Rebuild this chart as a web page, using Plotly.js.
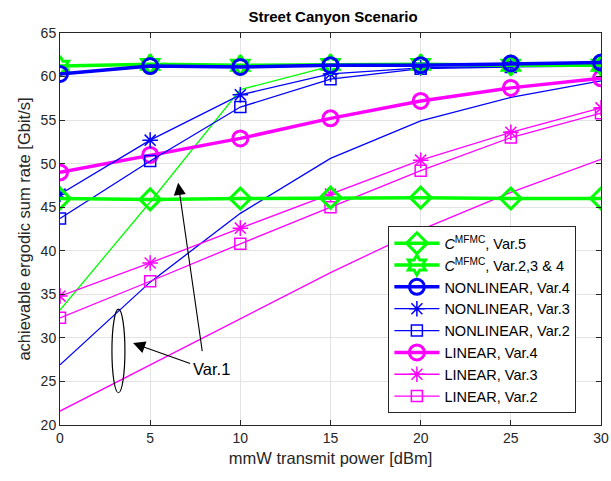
<!DOCTYPE html>
<html><head><meta charset="utf-8">
<script src="https://cdn.plot.ly/plotly-3.0.1.min.js"></script>
<style>html,body{margin:0;padding:0;background:#fff}#chart{width:611px;height:481px}</style>
</head><body><div id="chart"></div>
<script>
const xPower = [0, 5, 10, 15, 20, 25, 30];
const mfmcVar5 = [46.0, 45.9, 46.0, 46.1, 46.1, 46.0, 46.0];
const mfmcVar234 = [61.2, 61.4, 61.3, 61.4, 61.4, 61.3, 61.3];
const mfmcVar1 = [33.2, 45.6, 58.5, 61.2, 61.3, 61.3, 61.3];
const nonlinVar4 = [60.3, 61.2, 61.1, 61.3, 61.3, 61.5, 61.6];
const nonlinVar3 = [46.5, 52.7, 57.9, 60.3, 61.0, 61.2, 61.3];
const nonlinVar2 = [43.7, 50.3, 56.5, 59.7, 60.9, 61.1, 61.2];
const nonlinVar1 = [26.9, 36.4, 44.3, 50.6, 54.9, 57.6, 59.5];
const linVar4 = [49.0, 51.0, 52.9, 55.2, 57.2, 58.7, 59.8];
const linVar3 = [34.8, 38.6, 42.6, 46.5, 50.4, 53.6, 56.4];
const linVar2 = [32.3, 36.5, 40.8, 45.0, 49.2, 53.0, 55.8];
const linVar1 = [21.6, 26.9, 32.2, 37.5, 42.4, 46.7, 50.5];
const xTicks = [0, 5, 10, 15, 20, 25, 30];
const yTicks = [20, 25, 30, 35, 40, 45, 50, 55, 60, 65];

const G = '#00ff00', B = '#0000ff', M = '#ff00ff';
const thick = 3.5, thin = 1.3;
function tr(y, name, color, w, sym, size, mlw, rank) {
  const t = {x: xPower, y: y, name: name, type: 'scatter', mode: sym ? 'lines+markers' : 'lines',
    line: {color: color, width: w}, showlegend: rank > 0, legendrank: rank > 0 ? rank : 1000};
  if (sym) t.marker = {symbol: sym, size: size, color: color, line: {color: color, width: mlw}};
  return t;
}
const data = [
  tr(linVar1, 'LINEAR, Var.1', M, thin, null, 0, 0, 0),
  tr(nonlinVar1, 'NONLINEAR, Var.1', B, thin, null, 0, 0, 0),
  tr(mfmcVar1, 'MFMC, Var.1', G, thin, null, 0, 0, 0),
  tr(linVar2, 'LINEAR, Var.2', M, thin, 'square-open', 11, 1.5, 8),
  tr(linVar3, 'LINEAR, Var.3', M, thin, 'asterisk-open', 13, 1.5, 7),
  tr(linVar4, 'LINEAR, Var.4', M, thick, 'circle-open', 15, 3, 6),
  tr(nonlinVar2, 'NONLINEAR, Var.2', B, thin, 'square-open', 11, 1.5, 5),
  tr(nonlinVar3, 'NONLINEAR, Var.3', B, thin, 'asterisk-open', 13, 1.5, 4),
  tr(mfmcVar234, '<i>C</i><sup>MFMC</sup>, Var.2,3 & 4', G, thick, 'hexagram-open', 15, 3, 2),
  tr(nonlinVar4, 'NONLINEAR, Var.4', B, thick, 'circle-open', 15, 3, 3),
  tr(mfmcVar5, '<i>C</i><sup>MFMC</sup>, Var.5', G, thick, 'diamond-open', 16, 3, 1)
];
const axisCommon = {showline: true, mirror: 'ticks', linecolor: '#262626', linewidth: 1,
  ticks: 'inside', ticklen: 5, tickcolor: '#262626', showgrid: true, gridcolor: '#e3e3e3', gridwidth: 1,
  zeroline: false, tickfont: {size: 14, color: '#262626'}};
const layout = {
  width: 611, height: 481,
  margin: {l: 60, r: 10, t: 33, b: 56},
  paper_bgcolor: '#fff', plot_bgcolor: '#fff',
  font: {family: 'Liberation Sans, Arial, sans-serif', color: '#262626'},
  title: {text: '<b>Street Canyon Scenario</b>', font: {size: 15, color: '#000'}, x: 0.545, xanchor: 'center', y: 0.965, yanchor: 'middle'},
  xaxis: Object.assign({}, axisCommon, {range: [0, 30], tickvals: xTicks, ticktext: xTicks.map(String),
    title: {text: 'mmW transmit power [dBm]', font: {size: 16.5, color: '#262626'}, standoff: 7}}),
  yaxis: Object.assign({}, axisCommon, {range: [20, 65], tickvals: yTicks, ticktext: yTicks.map(String),
    title: {text: 'achievable ergodic sum rate [Gbit/s]', font: {size: 16.5, color: '#262626'}, standoff: 5}}),
  legend: {x: 0.607, y: 0.03, xanchor: 'left', yanchor: 'bottom', bgcolor: '#fff', bordercolor: '#262626', borderwidth: 1,
    font: {size: 14.5, color: '#000'}, traceorder: 'normal', tracegroupgap: 0, itemwidth: 45},
  shapes: [{type: 'circle', xref: 'x', yref: 'y', x0: 2.88, x1: 3.6, y0: 23.7, y1: 33.3, line: {color: '#000', width: 1.2}}],
  annotations: [
    {x: 8.4, y: 26.4, xref: 'x', yref: 'y', text: 'Var.1', showarrow: false, font: {size: 16.5, color: '#000'}},
    {x: 4.05, y: 29.4, xref: 'x', yref: 'y', ax: 7.3, ay: 27.0, axref: 'x', ayref: 'y', text: '', showarrow: true,
      arrowhead: 2, arrowsize: 2.2, arrowwidth: 1.1, arrowcolor: '#000'},
    {x: 6.55, y: 47.8, xref: 'x', yref: 'y', ax: 7.9, ay: 28.3, axref: 'x', ayref: 'y', text: '', showarrow: true,
      arrowhead: 2, arrowsize: 2.2, arrowwidth: 1.1, arrowcolor: '#000'}
  ]
};
Plotly.newPlot('chart', data, layout, {displayModeBar: false, staticPlot: true});
</script></body></html>
